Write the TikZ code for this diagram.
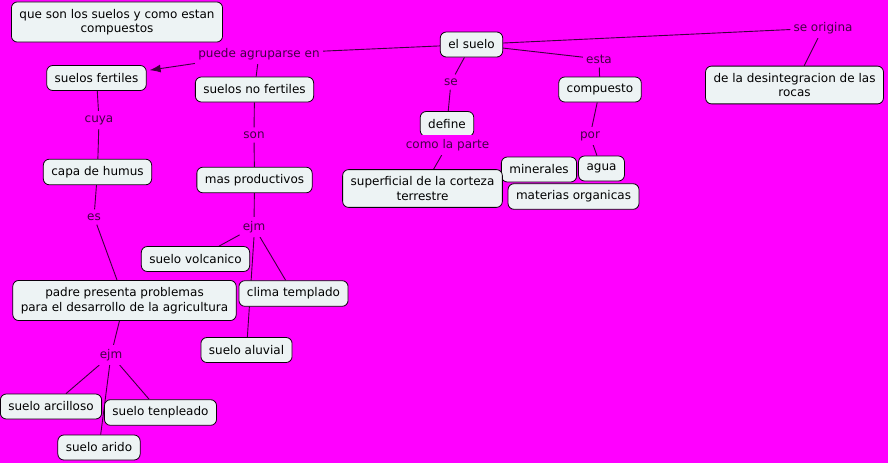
\documentclass[tikz,border=0pt]{standalone}
\usepackage{fontspec}
\setmainfont{DejaVu Sans}
\usetikzlibrary{arrows.meta,backgrounds}
\definecolor{mapbg}{HTML}{FF00FF}
\definecolor{boxfill}{HTML}{EDF3F4}
\definecolor{linkcol}{HTML}{3C003C}
\definecolor{phrasecol}{HTML}{440046}

\begin{document}
\begin{tikzpicture}[x=1pt,y=-1pt,
    concept/.style={draw=black!80!linkcol,fill=boxfill,rounded corners=6pt,line width=0.8pt,
      inner xsep=8pt,inner ysep=7pt,minimum height=25pt,align=center,
      font=\fontsize{12}{14.5}\selectfont},
    phrase/.style={text=phrasecol,fill=mapbg,inner xsep=3pt,inner ysep=4pt,
      font=\fontsize{12}{14.5}\selectfont},
    link/.style={draw=linkcol,line width=0.9pt}]
  \useasboundingbox (0,0) rectangle (888,463);

  % concepts
  \node[concept] (tema) at (117,22) {que son los suelos y como estan\\compuestos};
  \node[concept] (suelo) at (471.5,44.5) {el suelo};
  \node[concept] (rocas) at (794.5,85) {de la desintegracion de las\\rocas};
  \node[concept] (compuesto) at (600,89.5) {compuesto};
  \node[concept] (agua) at (601.5,168.5) {agua};
  \node[concept] (minerales) at (539,169.5) {minerales};
  \node[concept] (materias) at (573.5,196.5) {materias organicas};
  \node[concept] (define) at (447,124) {define};
  \node[concept] (corteza) at (422.5,188.5) {superficial de la corteza\\terrestre};
  \node[concept] (fertiles) at (96.5,78) {suelos fertiles};
  \node[concept] (nofertiles) at (254.5,89.5) {suelos no fertiles};
  \node[concept] (humus) at (97.5,172) {capa de humus};
  \node[concept] (productivos) at (254.5,180) {mas productivos};
  \node[concept] (volcanico) at (195.5,259) {suelo volcanico};
  \node[concept] (padre) at (124.5,300.5) {padre presenta problemas\\para el desarrollo de la agricultura};
  \node[concept] (clima) at (293.5,293.5) {clima templado};
  \node[concept] (aluvial) at (246.5,350) {suelo aluvial};
  \node[concept] (arcilloso) at (51,406.5) {suelo arcilloso};
  \node[concept] (tenpleado) at (160.5,412.5) {suelo tenpleado};
  \node[concept] (arido) at (99,447.5) {suelo arido};

  % linking phrases
  \node[phrase] (agrupa) at (259,54) {puede agruparse en};
  \node[phrase] (origina) at (823,28) {se origina};
  \node[phrase] (esta) at (599,59) {esta};
  \node[phrase] (por) at (590,136) {por};
  \node[phrase] (se) at (451,82) {se};
  \node[phrase] (parte) at (447.5,145) {como la parte};
  \node[phrase] (cuya) at (99,120) {cuya};
  \node[phrase] (son) at (254,135) {son};
  \node[phrase] (es) at (94,217) {es};
  \node[phrase] (ejmA) at (254,227) {ejm};
  \node[phrase] (ejmB) at (111,355) {ejm};

  \begin{scope}[on background layer]
    \fill[mapbg] (0,0) rectangle (888,463);
    \draw[link] (suelo) -- (agrupa);
    \draw[link,-{Latex[length=11pt,width=8pt]},shorten >=3pt] (agrupa) -- (fertiles);
    \draw[link] (agrupa) -- (nofertiles);
    \draw[link] (suelo) -- (origina);
    \draw[link] (origina) -- (rocas);
    \draw[link] (suelo) -- (esta);
    \draw[link] (esta) -- (compuesto);
    \draw[link] (compuesto) -- (por);
    \draw[link] (por) -- (agua);
    \draw[link] (suelo) -- (se);
    \draw[link] (se) -- (define);
    \draw[link] (define) -- (parte);
    \draw[link] (parte) -- (corteza);
    \draw[link] (fertiles) -- (cuya);
    \draw[link] (cuya) -- (humus);
    \draw[link] (humus) -- (es);
    \draw[link] (es) -- (padre);
    \draw[link] (nofertiles) -- (son);
    \draw[link] (son) -- (productivos);
    \draw[link] (productivos) -- (ejmA);
    \draw[link] (ejmA) -- (volcanico);
    \draw[link] (ejmA) -- (clima);
    \draw[link] (ejmA.south) -- (aluvial);
    \draw[link] (padre) -- (ejmB);
    \draw[link] (ejmB) -- (arcilloso);
    \draw[link] (ejmB) -- (tenpleado);
    \draw[link] (ejmB) -- (arido);
  \end{scope}
\end{tikzpicture}
\end{document}
